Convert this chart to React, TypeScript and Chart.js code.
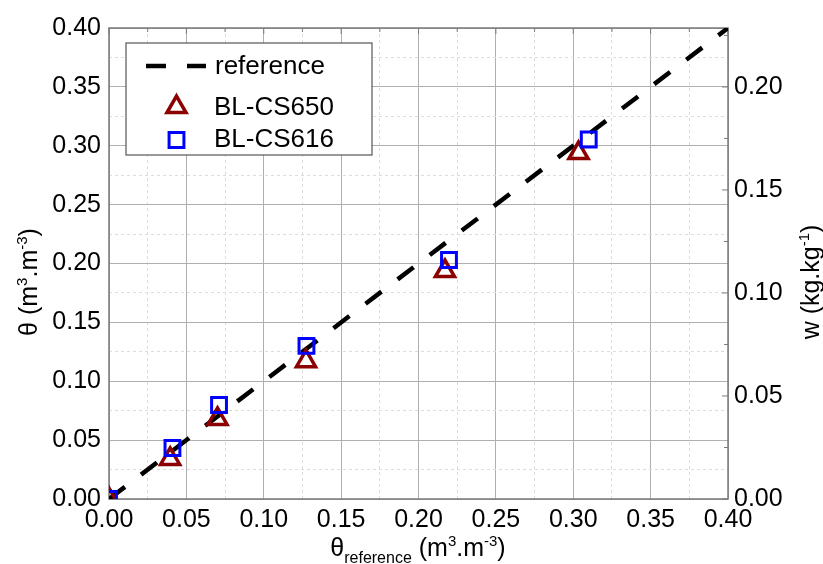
import React, { useEffect, useRef } from "react";
import { Chart, registerables } from "chart.js";

Chart.register(...registerables);

// ---- data ----
const referenceX = [0, 0.4];
const referenceY = [0, 0.4];
const cs650X = [0, 0.0395, 0.0701, 0.1273, 0.2171, 0.3034];
const cs650Y = [0, 0.034, 0.068, 0.117, 0.1936, 0.2938];
const cs616X = [0, 0.041, 0.0711, 0.1276, 0.2197, 0.31];
const cs616Y = [0, 0.0433, 0.0798, 0.13, 0.203, 0.3053];
const thetaMin = 0;
const thetaMax = 0.4;
const wMax = 0.2286; // right axis upper bound (w scale)
const wTickMax = 0.2;
const legendLabels = ["reference", "BL-CS650", "BL-CS616"];

const FONT = "Arial, 'Liberation Sans', sans-serif";
const RED = "#8B0000";
const BLUE = "#0000FF";

const isMajor = (v: number) => Math.round(v * 1000) % 50 === 0;

type Part = { t: string; s: number; dy: number };

function drawRich(ctx: CanvasRenderingContext2D, parts: Part[], cx: number, y: number) {
  let total = 0;
  for (const p of parts) {
    ctx.font = `${p.s}px ${FONT}`;
    total += ctx.measureText(p.t).width;
  }
  let x = cx - total / 2;
  ctx.textAlign = "left";
  ctx.textBaseline = "alphabetic";
  for (const p of parts) {
    ctx.font = `${p.s}px ${FONT}`;
    ctx.fillText(p.t, x, y + p.dy);
    x += ctx.measureText(p.t).width;
  }
}

const decorPlugin = {
  id: "decor",
  beforeDatasetsDraw(chart: any) {
    const { ctx, chartArea } = chart;
    const { left, right, top, bottom } = chartArea;
    const xs = chart.scales.x;
    const y2 = chart.scales.y2;
    ctx.save();
    ctx.strokeStyle = "#7a7a7a";
    ctx.lineWidth = 1.5;
    ctx.strokeRect(left, top, right - left, bottom - top);
    ctx.lineWidth = 1;
    // inward tick marks on top edge
    for (let i = 0; i <= 16; i++) {
      const v = thetaMin + i * 0.025;
      const px = xs.getPixelForValue(v);
      const len = i % 2 === 0 ? 6 : 4;
      ctx.beginPath();
      ctx.moveTo(px, top);
      ctx.lineTo(px, top + len);
      ctx.stroke();
    }
    // inward tick marks on right edge (w scale)
    for (let i = 0; i * 0.025 <= wMax + 1e-9; i++) {
      const v = i * 0.025;
      const py = y2.getPixelForValue(v);
      const len = i % 2 === 0 ? 6 : 4;
      ctx.beginPath();
      ctx.moveTo(right, py);
      ctx.lineTo(right - len, py);
      ctx.stroke();
    }
    ctx.restore();
  },
  afterDraw(chart: any) {
    const { ctx } = chart;
    ctx.save();
    // legend box
    const bx = 126, by = 43, bw = 246, bh = 112;
    ctx.fillStyle = "#ffffff";
    ctx.fillRect(bx, by, bw, bh);
    ctx.strokeStyle = "#555555";
    ctx.lineWidth = 1.2;
    ctx.strokeRect(bx, by, bw, bh);
    // reference dashes
    ctx.strokeStyle = "#000000";
    ctx.lineWidth = 4.5;
    ctx.lineCap = "butt";
    ctx.beginPath();
    ctx.moveTo(146, 66);
    ctx.lineTo(166, 66);
    ctx.moveTo(187, 66);
    ctx.lineTo(206, 66);
    ctx.stroke();
    // triangle
    const tr = 11, tx = 176.5, ty = 107;
    ctx.strokeStyle = RED;
    ctx.lineWidth = 3.5;
    ctx.lineJoin = "miter";
    ctx.beginPath();
    for (let k = 0; k < 3; k++) {
      const a = (k * 2 * Math.PI) / 3;
      const px = tx + Math.sin(a) * tr;
      const py = ty - Math.cos(a) * tr;
      if (k === 0) ctx.moveTo(px, py);
      else ctx.lineTo(px, py);
    }
    ctx.closePath();
    ctx.stroke();
    // square
    const sz = 10.5 * Math.SQRT1_2;
    ctx.strokeStyle = BLUE;
    ctx.lineWidth = 3;
    ctx.beginPath();
    ctx.rect(176.5 - sz, 140 - sz, 2 * sz, 2 * sz);
    ctx.stroke();
    // legend text
    ctx.fillStyle = "#000000";
    ctx.font = `26px ${FONT}`;
    ctx.textAlign = "left";
    ctx.textBaseline = "middle";
    ctx.fillText(legendLabels[0], 215, 67);
    ctx.fillText(legendLabels[1], 214, 108);
    ctx.fillText(legendLabels[2], 214, 140);

    // axis titles
    ctx.fillStyle = "#000000";
    drawRich(
      ctx,
      [
        { t: "θ", s: 25, dy: 0 },
        { t: "reference", s: 16, dy: 7 },
        { t: " (m", s: 25, dy: 0 },
        { t: "3", s: 15, dy: -10 },
        { t: ".m", s: 25, dy: 0 },
        { t: "-3", s: 15, dy: -10 },
        { t: ")", s: 25, dy: 0 },
      ],
      418,
      556
    );
    ctx.save();
    ctx.translate(37, 282);
    ctx.rotate(-Math.PI / 2);
    drawRich(
      ctx,
      [
        { t: "θ (m", s: 25, dy: 0 },
        { t: "3", s: 15, dy: -10 },
        { t: ".m", s: 25, dy: 0 },
        { t: "-3", s: 15, dy: -10 },
        { t: ")", s: 25, dy: 0 },
      ],
      0,
      0
    );
    ctx.restore();
    ctx.save();
    ctx.translate(819, 282);
    ctx.rotate(-Math.PI / 2);
    drawRich(
      ctx,
      [
        { t: "w (kg.kg", s: 25, dy: 0 },
        { t: "-1", s: 15, dy: -10 },
        { t: ")", s: 25, dy: 0 },
      ],
      0,
      0
    );
    ctx.restore();
    ctx.restore();
  },
};

const tickFont = { family: FONT, size: 25 };

export default function App() {
  const ref = useRef<HTMLCanvasElement | null>(null);
  useEffect(() => {
    if (!ref.current) return;
    const gridColor = (c: any) =>
      c.tick && isMajor(c.tick.value) ? "#b0b0b0" : "#dcdcdc";
    const gridDash = (c: any) =>
      c.tick && !isMajor(c.tick.value) ? [3, 3] : [];
    const chart = new Chart(ref.current, {
      type: "scatter",
      data: {
        datasets: [
          {
            label: legendLabels[2],
            data: cs616X.map((x, i) => ({ x, y: cs616Y[i] })),
            pointStyle: "rect",
            pointRadius: 10.5,
            pointBorderWidth: 3,
            borderColor: BLUE,
            backgroundColor: "rgba(0,0,0,0)",
            clip: 0,
            order: 0,
          },
          {
            label: legendLabels[1],
            data: cs650X.map((x, i) => ({ x, y: cs650Y[i] })),
            pointStyle: "triangle",
            pointRadius: 11,
            pointBorderWidth: 3.5,
            borderColor: RED,
            backgroundColor: "rgba(0,0,0,0)",
            clip: 0,
            order: 1,
          },
          {
            label: legendLabels[0],
            data: referenceX.map((x, i) => ({ x, y: referenceY[i] })),
            showLine: true,
            pointRadius: 0,
            borderColor: "#000000",
            borderWidth: 4.5,
            borderDash: [20, 20.3],
            clip: 0,
            order: 2,
          } as any,
        ],
      },
      options: {
        animation: false,
        responsive: false,
        events: [],
        layout: { padding: { top: 28, left: 0, right: 0, bottom: 0 } },
        plugins: { legend: { display: false }, tooltip: { enabled: false } },
        scales: {
          x: {
            type: "linear",
            min: thetaMin,
            max: thetaMax,
            ticks: {
              stepSize: 0.025,
              autoSkip: false,
              maxRotation: 0,
              padding: 6,
              color: "#000",
              font: tickFont,
              callback: (v: any) => (isMajor(Number(v)) ? Number(v).toFixed(2) : ""),
            },
            grid: { color: gridColor, lineWidth: 1, drawTicks: false },
            border: { display: false, dash: gridDash },
            afterFit: (s: any) => {
              s.height = 65;
            },
          },
          y: {
            type: "linear",
            position: "left",
            min: thetaMin,
            max: thetaMax,
            ticks: {
              stepSize: 0.025,
              autoSkip: false,
              padding: 8,
              color: "#000",
              font: tickFont,
              callback: (v: any) => (isMajor(Number(v)) ? Number(v).toFixed(2) : ""),
            },
            grid: { color: gridColor, lineWidth: 1, drawTicks: false },
            border: { display: false, dash: gridDash },
            afterFit: (s: any) => {
              s.width = 109;
            },
          },
          y2: {
            type: "linear",
            position: "right",
            min: 0,
            max: wMax,
            ticks: {
              stepSize: 0.025,
              autoSkip: false,
              padding: 6,
              color: "#000",
              font: tickFont,
              callback: (v: any) => {
                const n = Number(v);
                return isMajor(n) && n <= wTickMax + 1e-9 ? n.toFixed(2) : "";
              },
            },
            grid: { display: false, drawTicks: false },
            border: { display: false },
            afterFit: (s: any) => {
              s.width = 95;
            },
          },
        },
      } as any,
      plugins: [decorPlugin],
    });
    return () => chart.destroy();
  }, []);
  return (
    <div style={{ position: "absolute", left: 0, top: 0, width: 823, height: 564, background: "#fff" }}>
      <canvas ref={ref} width={823} height={564} />
    </div>
  );
}
